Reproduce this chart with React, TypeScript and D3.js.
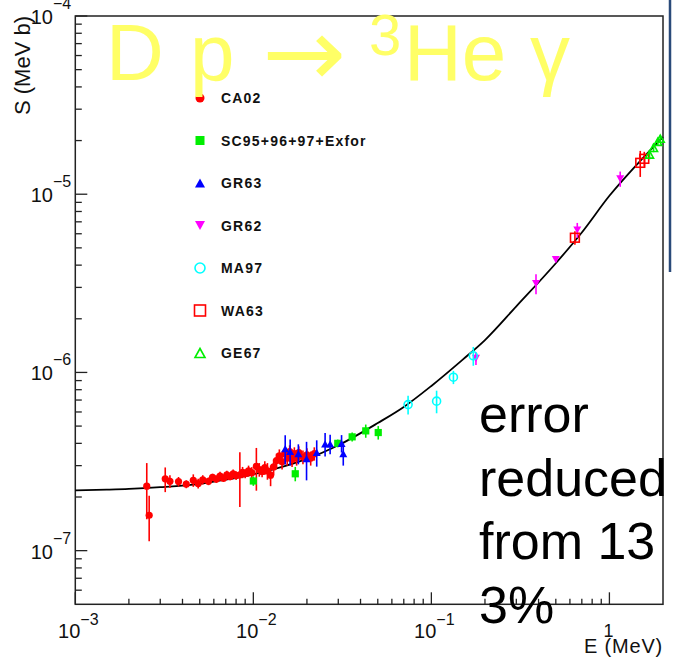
import React from "react";
import * as d3 from "d3";

const W = 673;
const H = 670;

// axis domains and tick values
const xDomain = [1e-3, 2];
const yDomain = [5e-8, 1e-4];
const xMajorTicks = [1e-3, 1e-2, 1e-1, 1];
const xMajorBase = ["10", "10", "10", "1"];
const xMajorSup = ["\u22123", "\u22122", "\u22121", ""];
const yMajorTicks = [1e-4, 1e-5, 1e-6, 1e-7];
const yMajorBase = ["10", "10", "10", "10"];
const yMajorSup = ["\u22124", "\u22125", "\u22126", "\u22127"];

// fitted curve (E in MeV, S in MeV b)
const curveE = [0.001, 0.0015, 0.002, 0.003, 0.005, 0.007, 0.01, 0.015, 0.02, 0.03, 0.05, 0.07, 0.1, 0.15, 0.2, 0.3, 0.5, 0.7, 1.0, 1.5, 2.0];
const curveS = [2.18e-7, 2.2e-7, 2.22e-7, 2.27e-7, 2.37e-7, 2.5e-7, 2.68e-7, 2.98e-7, 3.27e-7, 3.9e-7, 5.2e-7, 6.4e-7, 8.4e-7, 1.18e-6, 1.52e-6, 2.35e-6, 4.1e-6, 6.1e-6, 9.8e-6, 1.55e-5, 2.09e-5];

// data series: [E, S, err]
const CA02 = [
  [2.52e-3, 2.3e-7, 0.8e-7], [2.6e-3, 1.58e-7, 0.45e-7], [3.2e-3, 2.53e-7, 0.4e-7], [3.4e-3, 2.45e-7, 0.2e-7],
  [3.8e-3, 2.44e-7, 0.15e-7], [4.2e-3, 2.36e-7, 0.12e-7], [4.6e-3, 2.48e-7, 0.2e-7], [4.9e-3, 2.38e-7, 0.15e-7],
  [5.2e-3, 2.5e-7, 0.15e-7], [5.6e-3, 2.45e-7, 0.12e-7], [5.9e-3, 2.58e-7, 0.12e-7], [6.2e-3, 2.52e-7, 0.12e-7],
  [6.5e-3, 2.62e-7, 0.15e-7], [6.8e-3, 2.55e-7, 0.12e-7], [7.1e-3, 2.66e-7, 0.15e-7], [7.4e-3, 2.6e-7, 0.12e-7],
  [7.7e-3, 2.7e-7, 0.15e-7], [8.0e-3, 2.64e-7, 0.15e-7], [8.4e-3, 2.66e-7, 0.9e-7], [8.7e-3, 2.75e-7, 0.2e-7],
  [9.0e-3, 2.7e-7, 0.15e-7], [9.4e-3, 2.8e-7, 0.2e-7], [9.8e-3, 2.74e-7, 0.2e-7], [1.04e-2, 2.97e-7, 0.8e-7],
  [1.08e-2, 2.85e-7, 0.25e-7], [1.12e-2, 2.78e-7, 0.2e-7], [1.16e-2, 2.92e-7, 0.25e-7], [1.2e-2, 2.8e-7, 0.3e-7],
  [1.25e-2, 2.65e-7, 0.35e-7], [1.3e-2, 2.95e-7, 0.3e-7], [1.35e-2, 3.2e-7, 0.3e-7], [1.4e-2, 3.4e-7, 0.3e-7],
  [1.45e-2, 3.15e-7, 0.3e-7], [1.5e-2, 3.5e-7, 0.3e-7], [1.55e-2, 3.3e-7, 0.3e-7], [1.6e-2, 3.6e-7, 0.3e-7],
  [1.65e-2, 3.25e-7, 0.3e-7], [1.7e-2, 3.5e-7, 0.3e-7], [1.75e-2, 3.3e-7, 0.3e-7], [1.8e-2, 3.55e-7, 0.3e-7],
  [1.9e-2, 3.35e-7, 0.3e-7], [2.0e-2, 3.45e-7, 0.3e-7], [2.1e-2, 3.3e-7, 0.3e-7], [2.2e-2, 3.5e-7, 0.3e-7],
];
const SC95 = [
  [0.01, 2.46e-7, 0.15e-7], [0.0172, 2.7e-7, 0.25e-7], [0.0298, 4.0e-7, 0.2e-7],
  [0.0359, 4.35e-7, 0.25e-7], [0.0428, 4.7e-7, 0.4e-7], [0.0503, 4.6e-7, 0.4e-7],
];
const GR63 = [
  [0.0151, 3.74e-7, 0.7e-7], [0.0161, 3.6e-7, 0.6e-7], [0.0179, 3.5e-7, 0.45e-7], [0.0199, 3.28e-7, 0.8e-7],
  [0.0227, 3.56e-7, 0.6e-7], [0.0253, 3.97e-7, 0.6e-7], [0.027, 3.97e-7, 0.5e-7], [0.0313, 4.0e-7, 0.45e-7],
  [0.032, 3.5e-7, 0.5e-7],
];
const GR62 = [
  [0.178, 1.2e-6, 0.1e-6], [0.387, 3.15e-6, 0.4e-6], [0.5, 4.3e-6, 0.15e-6], [0.66, 6.3e-6, 0.6e-6], [1.15, 1.22e-5, 0.12e-5],
];
const MA97 = [
  [0.074, 6.6e-7, 0.8e-7], [0.107, 6.9e-7, 1.0e-7], [0.133, 9.4e-7, 0.8e-7], [0.172, 1.24e-6, 0.15e-6],
];
const WA63 = [
  [0.64, 5.7e-6, 0.5e-6], [1.49, 1.5e-5, 0.25e-5], [1.57, 1.58e-5, 0.15e-5],
];
const GE67 = [
  [1.68, 1.67e-5, 0.1e-5], [1.77, 1.82e-5, 0.1e-5], [1.87, 1.97e-5, 0.1e-5], [1.93, 2.05e-5, 0.08e-5],
];

const legendLabels = ["CA02", "SC95+96+97+Exfor", "GR63", "GR62", "MA97", "WA63", "GE67"];
const seriesColors = ["#ff0000", "#00ee00", "#0000ff", "#ff00ff", "#00ffff", "#ff0000", "#00ee00"];
const seriesShapes = ["circle", "square", "tri", "tridown", "ocircle", "osquare", "otri"];
const seriesData = [CA02, SC95, GR63, GR62, MA97, WA63, GE67];

const titleLines = ["error", "reduced", "from 13", "3%"];

const FONT = "'Liberation Sans', Arial, Helvetica, sans-serif";

function Marker({ shape, cx, cy, color, s }: { shape: string; cx: number; cy: number; color: string; s: number }) {
  if (shape === "circle") return <circle cx={cx} cy={cy} r={s * 0.45} fill={color} />;
  if (shape === "ocircle") return <circle cx={cx} cy={cy} r={s * 0.5} fill="none" stroke={color} strokeWidth={1.6} />;
  if (shape === "square") return <rect x={cx - s * 0.45} y={cy - s * 0.45} width={s * 0.9} height={s * 0.9} fill={color} />;
  if (shape === "osquare") return <rect x={cx - s * 0.55} y={cy - s * 0.55} width={s * 1.1} height={s * 1.1} fill="none" stroke={color} strokeWidth={1.6} />;
  const h = s * 0.9;
  const w = s * 1.0;
  if (shape === "tri" || shape === "otri") {
    const p = `M${cx},${cy - h / 2}L${cx + w / 2},${cy + h / 2}L${cx - w / 2},${cy + h / 2}Z`;
    return shape === "tri" ? <path d={p} fill={color} /> : <path d={p} fill="none" stroke={color} strokeWidth={1.6} />;
  }
  const p = `M${cx},${cy + h / 2}L${cx + w / 2},${cy - h / 2}L${cx - w / 2},${cy - h / 2}Z`;
  return <path d={p} fill={color} />;
}

export default function App() {
  const x = d3.scaleLog().domain(xDomain).range([75.3, 663]);
  const y = d3.scaleLog().domain(yDomain).range([604.3, 16]);
  const [x0, x1] = x.range();
  const [y0, y1] = y.range();

  const xMinor: number[] = [];
  for (let d = 1e-3; d < 10; d *= 10)
    for (let k = 2; k <= 9; k++) {
      const v = k * d;
      if (v > xDomain[0] && v < xDomain[1]) xMinor.push(v);
    }
  const yMinor: number[] = [];
  for (let d = 1e-8; d < 1e-4; d *= 10)
    for (let k = 2; k <= 9; k++) {
      const v = k * d;
      if (v > yDomain[0] && v < yDomain[1]) yMinor.push(v);
    }

  const line = d3
    .line<number>()
    .x((_, i) => x(curveE[i]))
    .y((_, i) => y(curveS[i]))
    .curve(d3.curveMonotoneX);

  const legendY = (i: number) => 98 + i * 42.5;

  return (
    <svg width={W} height={H} style={{ position: "absolute", left: 0, top: 0, background: "#fff" }} fontFamily={FONT}>
      <rect x={0} y={0} width={W} height={H} fill="#fff" />
      {/* frame */}
      <rect x={x0} y={y1} width={x1 - x0} height={y0 - y1} fill="none" stroke="#222" strokeWidth={1.5} />
      {/* y ticks */}
      {yMajorTicks.map((v) => (
        <line key={"ym" + v} x1={x0} x2={x0 + 12} y1={y(v)} y2={y(v)} stroke="#222" strokeWidth={1.3} />
      ))}
      {yMinor.map((v) => (
        <line key={"yn" + v} x1={x0} x2={x0 + 6.5} y1={y(v)} y2={y(v)} stroke="#222" strokeWidth={1.3} />
      ))}
      {/* x ticks */}
      {xMajorTicks.map((v) => (
        <line key={"xm" + v} x1={x(v)} x2={x(v)} y1={y0} y2={y0 - 12} stroke="#222" strokeWidth={1.3} />
      ))}
      {xMinor.map((v) => (
        <line key={"xn" + v} x1={x(v)} x2={x(v)} y1={y0} y2={y0 - 5.5} stroke="#222" strokeWidth={1.3} />
      ))}
      {/* y labels */}
      {yMajorTicks.map((v, i) => (
        <g key={"yl" + v}>
          <text x={53} y={y(v) + 8} fontSize={20} textAnchor="end" fill="#111">{yMajorBase[i]}</text>
          <text x={53} y={y(v) - 7} fontSize={16} textAnchor="start" fill="#111">{yMajorSup[i]}</text>
        </g>
      ))}
      {/* x labels */}
      {xMajorTicks.map((v, i) =>
        xMajorSup[i] ? (
          <g key={"xl" + v}>
            <text x={x(v) + 5} y={638} fontSize={20} textAnchor="end" fill="#111">{xMajorBase[i]}</text>
            <text x={x(v) + 5} y={625} fontSize={16} textAnchor="start" fill="#111">{xMajorSup[i]}</text>
          </g>
        ) : (
          <text key={"xl" + v} x={x(v) - 1} y={637} fontSize={18} textAnchor="middle" fill="#111">{xMajorBase[i]}</text>
        )
      )}
      {/* axis titles */}
      <text x={663} y={653} fontSize={20} letterSpacing={0.8} textAnchor="end" fill="#111">E (MeV)</text>
      <text transform="translate(30,16) rotate(-90)" fontSize={22} textAnchor="end" fill="#111">S (MeV b)</text>

      {/* curve */}
      <path d={line(curveE) || ""} fill="none" stroke="#000" strokeWidth={1.8} />

      {/* data */}
      {seriesData.map((data, si) => (
        <g key={"s" + si}>
          {data.map((p, j) => (
            <line key={"e" + j} x1={x(p[0])} x2={x(p[0])} y1={y(p[1] + p[2])} y2={y(Math.max(p[1] - p[2], yDomain[0]))} stroke={seriesColors[si]} strokeWidth={1.6} />
          ))}
          {data.map((p, j) => (
            <Marker key={"m" + j} shape={seriesShapes[si]} cx={x(p[0])} cy={y(p[1])} color={seriesColors[si]} s={8} />
          ))}
        </g>
      ))}

      {/* legend */}
      {legendLabels.map((lab, i) => (
        <g key={"lg" + i}>
          <Marker shape={seriesShapes[i]} cx={200} cy={legendY(i)} color={seriesColors[i]} s={10} />
          <text x={221} y={legendY(i) + 5} fontSize={14} fontWeight="bold" letterSpacing={1.2} fill="#111">{lab}</text>
        </g>
      ))}

      {/* yellow title */}
      <g fill="#ffff66" fontSize={80}>
        <text x={106} y={80}>D</text>
        <text x={190} y={80}>p</text>
        <text x={262} y={86} fontSize={96} fontFamily="'DejaVu Sans', sans-serif" textLength={84} lengthAdjust="spacingAndGlyphs">{"\u2192"}</text>
        <text x={369} y={55} fontSize={58}>3</text>
        <text x={404} y={80}>He</text>
        <text x={530} y={80}>{"\u03b3"}</text>
      </g>

      {/* annotation */}
      {titleLines.map((t, i) => (
        <text key={"t" + i} x={479} y={431.7 + i * 63.8} fontSize={52} fill="#000">{t}</text>
      ))}

      {/* blue edge line */}
      <line x1={670} x2={670} y1={0} y2={272} stroke="#2a4a7a" strokeWidth={2.5} />
    </svg>
  );
}
